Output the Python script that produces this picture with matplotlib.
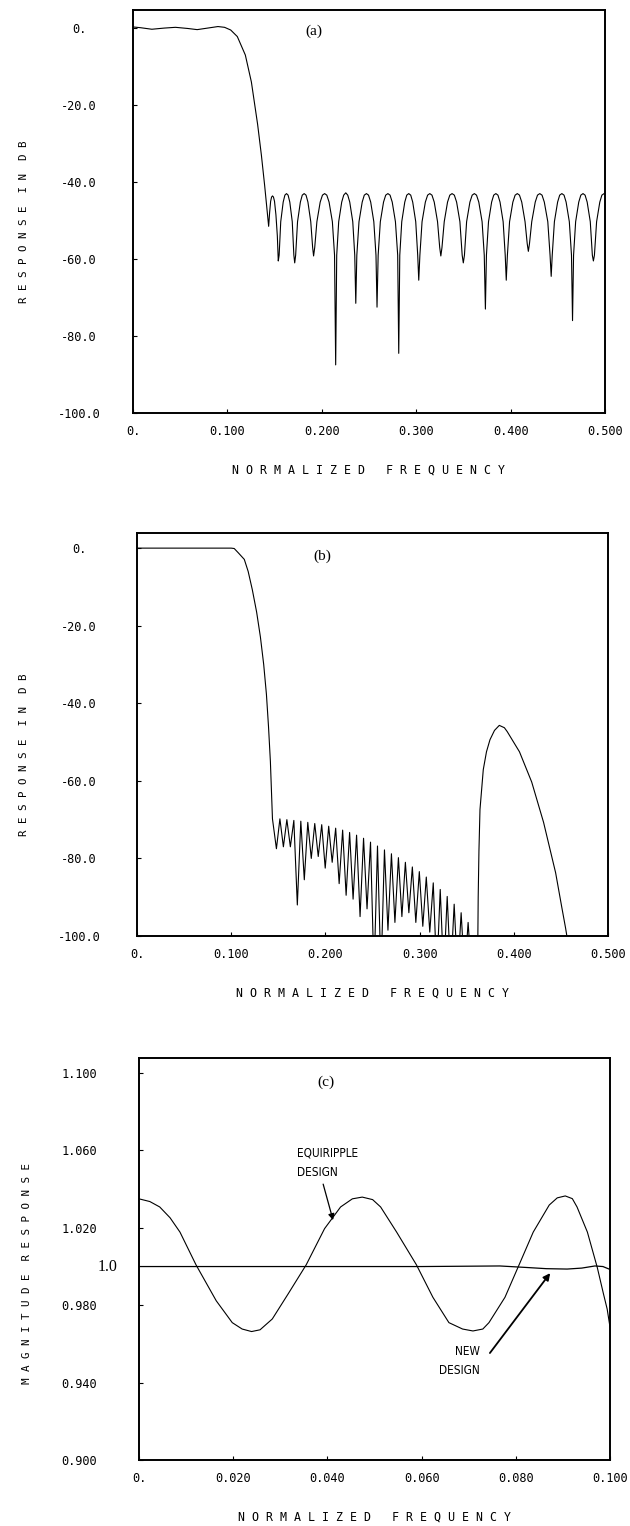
import matplotlib
matplotlib.use('Agg')
import matplotlib.pyplot as plt

W, H = 630, 1526

# ---------------- (a) response in dB ----------------
a_freq = [
    0.0, 0.008, 0.02, 0.033, 0.045, 0.058, 0.068, 0.079, 0.09, 0.097,
    0.1035, 0.1105, 0.119, 0.1254, 0.132, 0.136, 0.1395, 0.1437,
    0.1447, 0.1458, 0.1468, 0.1478, 0.1488, 0.1499, 0.1514, 0.1529, 0.1539,
    0.1548, 0.1565, 0.1591, 0.1609, 0.1626, 0.1643, 0.1661, 0.1687, 0.1704, 0.1713,
    0.1723, 0.1743, 0.1773, 0.1793, 0.1813, 0.1833, 0.1853, 0.1883, 0.1903, 0.1913,
    0.1925, 0.1948, 0.1983, 0.2007, 0.2030, 0.2053, 0.2077, 0.2112, 0.2135, 0.2147,
    0.2158, 0.2179, 0.2211, 0.2232, 0.2254, 0.2275, 0.2296, 0.2328, 0.2349, 0.2360,
    0.2371, 0.2394, 0.2428, 0.2450, 0.2473, 0.2495, 0.2518, 0.2551, 0.2574, 0.2585,
    0.2597, 0.2620, 0.2654, 0.2677, 0.2700, 0.2723, 0.2746, 0.2780, 0.2804, 0.2815,
    0.2826, 0.2847, 0.2879, 0.2900, 0.2921, 0.2942, 0.2963, 0.2995, 0.3016, 0.3027,
    0.3039, 0.3062, 0.3097, 0.3121, 0.3144, 0.3167, 0.3191, 0.3226, 0.3249, 0.3261,
    0.3273, 0.3297, 0.3332, 0.3356, 0.3380, 0.3404, 0.3428, 0.3463, 0.3487, 0.3499,
    0.3511, 0.3534, 0.3569, 0.3593, 0.3616, 0.3639, 0.3663, 0.3698, 0.3721, 0.3733,
    0.3744, 0.3766, 0.3799, 0.3821, 0.3844, 0.3866, 0.3888, 0.3921, 0.3943, 0.3954,
    0.3966, 0.3989, 0.4024, 0.4048, 0.4071, 0.4094, 0.4118, 0.4153, 0.4176, 0.4188,
    0.4200, 0.4224, 0.4261, 0.4285, 0.4309, 0.4333, 0.4357, 0.4394, 0.4418, 0.4430,
    0.4441, 0.4464, 0.4498, 0.4520, 0.4543, 0.4566, 0.4588, 0.4622, 0.4645, 0.4656,
    0.4667, 0.4689, 0.4722, 0.4744, 0.4767, 0.4789, 0.4811, 0.4844, 0.4866, 0.4877,
    0.4888, 0.4911, 0.4945, 0.4967, 0.4990, 0.5000,
]
a_db = [
    0.3, 0.1, -0.3, 0.0, 0.2, -0.1, -0.4, 0.0, 0.4, 0.2,
    -0.5, -2.2, -7, -14, -25, -33, -41, -51.5,
    -48, -45, -43.9, -43.6, -43.9, -45, -48.5, -54, -60.5,
    -59, -50.3, -45.2, -43.4, -43, -43.4, -45.2, -50.3, -59, -61,
    -59, -50.3, -45.2, -43.4, -43, -43.4, -45.2, -50.3, -57, -59.2,
    -57, -50.3, -45.2, -43.4, -43, -43.4, -45.2, -50.3, -59, -87.5,
    -59, -50.3, -45.2, -43.4, -42.8, -43.4, -45.2, -50.3, -59, -71.5,
    -59, -50.3, -45.2, -43.4, -43, -43.4, -45.2, -50.3, -59, -72.5,
    -59, -50.3, -45.2, -43.4, -43, -43.4, -45.2, -50.3, -59, -84.5,
    -59, -50.3, -45.2, -43.4, -43, -43.4, -45.2, -50.3, -59, -65.5,
    -59, -50.3, -45.2, -43.4, -43, -43.4, -45.2, -50.3, -57, -59.2,
    -57, -50.3, -45.2, -43.4, -43, -43.4, -45.2, -50.3, -59, -61,
    -59, -50.3, -45.2, -43.4, -43, -43.4, -45.2, -50.3, -59, -73,
    -59, -50.3, -45.2, -43.4, -43, -43.4, -45.2, -50.3, -59, -65.5,
    -59, -50.3, -45.2, -43.4, -43, -43.4, -45.2, -50.3, -56, -58,
    -56, -50.3, -45.2, -43.4, -43, -43.4, -45.2, -50.3, -59, -64.5,
    -59, -50.3, -45.2, -43.4, -43, -43.4, -45.2, -50.3, -59, -76,
    -59, -50.3, -45.2, -43.4, -43, -43.4, -45.2, -50.3, -59, -60.5,
    -59, -50.3, -45.2, -43.4, -43, -43.1,
]

# ---------------- (b) response in dB ----------------
b_freq = [
    0.0, 0.1, 0.1032, 0.1075, 0.1139, 0.118, 0.1224, 0.127, 0.131, 0.1345,
    0.1374, 0.1396, 0.1416, 0.1438,
    0.148, 0.1517, 0.1554, 0.1591, 0.1628, 0.1665, 0.1702, 0.1739, 0.1776, 0.1813,
    0.185, 0.1887, 0.1924, 0.1961, 0.1998, 0.2035, 0.2072, 0.2109, 0.2146, 0.2183,
    0.222, 0.2257, 0.2294, 0.2331, 0.2368, 0.2405, 0.2442, 0.2479, 0.2516, 0.2553,
    0.259, 0.2627, 0.2664, 0.2701, 0.2738, 0.2775, 0.2812, 0.2849, 0.2886, 0.2923,
    0.296, 0.2997, 0.3034, 0.3071, 0.3108, 0.3145, 0.3182, 0.3219, 0.3256, 0.3293,
    0.333, 0.3367, 0.3404, 0.3441, 0.3478, 0.3515, 0.3552, 0.3615,
    0.3622, 0.363, 0.3641, 0.3676, 0.371, 0.3747, 0.3795, 0.3846, 0.390, 0.393,
    0.406, 0.419, 0.4316, 0.4444, 0.4508, 0.455, 0.457, 0.5,
]
b_db = [
    0.0, 0.0, -0.1, -1.2, -2.9, -6, -10.7, -16.5, -22.9, -30,
    -37.7, -46, -55, -69.8,
    -77.5, -69.8, -77, -70, -77, -70.2, -92, -70.4, -85.5, -70.7,
    -80, -71, -79.5, -71.3, -82.5, -71.7, -81, -72.2, -86.5, -72.7,
    -89.5, -73.3, -90.5, -74, -95, -74.8, -93, -75.8, -110, -76.8,
    -110, -77.8, -98.5, -78.8, -96.5, -79.8, -95, -81, -94, -82.2,
    -96.5, -83.4, -97.5, -84.8, -99, -86.3, -110, -88, -110, -89.8,
    -110, -91.8, -110, -94, -110, -96.5, -110, -110,
    -90, -78, -67.4, -57.1, -52.5, -49.4, -47, -45.7, -46.3, -47.3,
    -52.5, -60.3, -70.7, -83.7, -92.4, -98, -101, -110,
]

# ---------------- (c) magnitude response ----------------
eq_freq = [
    0.0, 0.0023, 0.0044, 0.0066, 0.0087, 0.0121, 0.0164, 0.0198, 0.0219, 0.0239,
    0.0257, 0.0283, 0.0317, 0.0355, 0.0394, 0.0428, 0.0453, 0.0474, 0.0496, 0.0513,
    0.0547, 0.0589, 0.0624, 0.0658, 0.0687, 0.0709, 0.073, 0.0743, 0.0777, 0.0807,
    0.0837, 0.0871, 0.0888, 0.0905, 0.092, 0.093, 0.0952, 0.0973, 0.0986, 0.0994, 0.1,
]
eq_val = [
    1.0350, 1.0336, 1.0308, 1.0252, 1.0178, 1.0009, 0.9823, 0.9710, 0.9677, 0.9664,
    0.9673, 0.9729, 0.9860, 1.0009, 1.0196, 1.0308, 1.0350, 1.0359, 1.0346, 1.0308,
    1.0178, 1.0009, 0.9841, 0.9710, 0.9677, 0.9667, 0.9677, 0.9710, 0.9841, 1.0009,
    1.0178, 1.0318, 1.0355, 1.0365, 1.0351, 1.0308, 1.0178, 0.9995, 0.9860, 0.9780, 0.9687,
]
new_freq = [0.0, 0.03, 0.06, 0.0766, 0.0824, 0.0865, 0.0909, 0.094, 0.0968, 0.0985, 0.1]
new_val = [1.0, 1.0, 1.0, 1.0003, 0.9995, 0.9989, 0.9987, 0.9992, 1.0003, 1.0, 0.9985]

db_ticks = [0, -20, -40, -60, -80, -100]
db_labels = ['0.', '-20.0', '-40.0', '-60.0', '-80.0', '-100.0']
f_ticks = [0, 0.1, 0.2, 0.3, 0.4, 0.5]
f_labels = ['0.', '0.100', '0.200', '0.300', '0.400', '0.500']
c_yticks = [1.1, 1.06, 1.02, 0.98, 0.94, 0.9]
c_ylabels = ['1.100', '1.060', '1.020', '0.980', '0.940', '0.900']
c_xticks = [0, 0.02, 0.04, 0.06, 0.08, 0.1]
c_xlabels = ['0.', '0.020', '0.040', '0.060', '0.080', '0.100']

mono = 'DejaVu Sans Mono'
serif = 'Liberation Serif'

fig = plt.figure(figsize=(W / 100, H / 100), dpi=100)


def box(left, top, right, bottom):
    return [left / W, 1 - bottom / H, (right - left) / W, (bottom - top) / H]


def setup(ax, left, xt, xl, yt, yl):
    ax.set_xticks(xt)
    ax.set_xticklabels(xl, family=mono, fontsize=8.6)
    ax.set_yticks(yt)
    ax.set_yticklabels(yl, family=mono, fontsize=8.6)
    for lab in ax.get_yticklabels():
        lab.set_ha('center')
    ax.tick_params(direction='in', length=3, width=0.8)
    ax.tick_params(axis='x', pad=8.6)
    ax.tick_params(axis='y', pad=(left - 79) * 0.72)
    for s in ax.spines.values():
        s.set_linewidth(1.4)


def xlab(x, y):
    fig.text(x / W, 1 - y / H, 'N O R M A L I Z E D   F R E Q U E N C Y',
             family=mono, fontsize=8.4, ha='center', va='center')


def ylab(x, y, s):
    fig.text(x / W, 1 - y / H, s, family=mono, fontsize=7.8, rotation=90,
             ha='center', va='center')


# (a)
ax1 = fig.add_axes(box(133, 10, 605, 413))
ax1.plot(a_freq, a_db, color='black', lw=0.8)
ax1.set_xlim(0, 0.5)
ax1.set_ylim(-100, 4.7)
setup(ax1, 133, f_ticks, f_labels, db_ticks, db_labels)
ax1.text(0.1917, -0.8, '(a)', family=serif, fontsize=11, ha='center', va='center')
xlab(369, 470)
ylab(24, 222, 'R E S P O N S E  I N  D B')

# (b)
ax2 = fig.add_axes(box(137, 533, 608, 936))
ax2.plot(b_freq, b_db, color='black', lw=0.8)
ax2.set_xlim(0, 0.5)
ax2.set_ylim(-100, 3.9)
setup(ax2, 137, f_ticks, f_labels, db_ticks, db_labels)
ax2.text(0.1964, -2.1, '(b)', family=serif, fontsize=11, ha='center', va='center')
xlab(372, 993)
ylab(24, 755, 'R E S P O N S E  I N  D B')

# (c)
ax3 = fig.add_axes(box(139, 1058, 610, 1460))
ax3.plot(eq_freq, eq_val, color='black', lw=0.8)
ax3.plot(new_freq, new_val, color='black', lw=0.9)
ax3.set_xlim(0, 0.1)
ax3.set_ylim(0.9, 1.1078)
setup(ax3, 139, c_xticks, c_xlabels, c_yticks, c_ylabels)
ax3.text(-0.0658, 1.0, '1.0', transform=ax3.get_yaxis_transform(),
         family=serif, fontsize=11.5, ha='center', va='center')
ax3.text(0.0397, 1.0953, '(c)', family=serif, fontsize=11, ha='center', va='center')
ax3.text(0.03355, 1.0537, 'EQUIRIPPLE\nDESIGN', family='DejaVu Sans', fontstretch='condensed',
         fontsize=8.5, ha='left', va='center', linespacing=1.6)
ax3.text(0.0724, 0.9514, 'NEW\nDESIGN', family='DejaVu Sans', fontstretch='condensed',
         fontsize=8.5, ha='right', va='center', multialignment='right', linespacing=1.6)
ax3.annotate('', xy=(0.0412, 1.024), xytext=(0.0391, 1.0426),
             arrowprops=dict(arrowstyle='-|>', color='black', lw=0.9,
                             mutation_scale=9, shrinkA=0, shrinkB=0))
ax3.annotate('', xy=(0.0873, 0.9966), xytext=(0.0745, 0.9553),
             arrowprops=dict(arrowstyle='-|>', color='black', lw=1.3,
                             mutation_scale=10, shrinkA=0, shrinkB=0))
xlab(374, 1517)
ylab(27, 1274, 'M A G N I T U D E  R E S P O N S E')

fig.savefig('out.png', dpi=100)
